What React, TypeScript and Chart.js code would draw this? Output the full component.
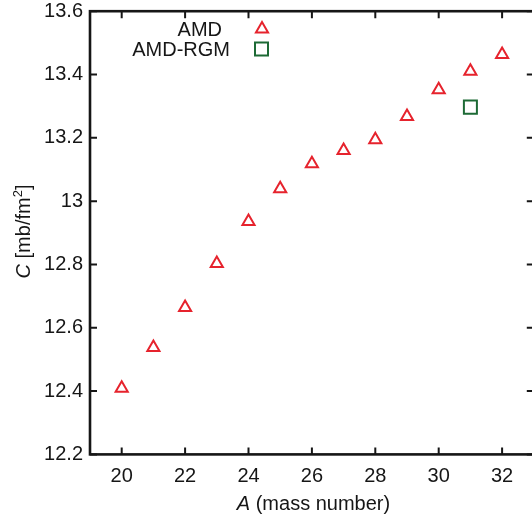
import React, { useEffect, useRef } from 'react';
import { Chart, registerables } from 'chart.js';

Chart.register(...registerables);

// ---- data ----
const massNumbers = [20, 21, 22, 23, 24, 25, 26, 27, 28, 29, 30, 31, 32];
const amdValues = [12.409, 12.538, 12.664, 12.803, 12.936, 13.039, 13.118, 13.16, 13.194, 13.267, 13.352, 13.41, 13.463];
const rgmMassNumbers = [31];
const rgmValues = [13.297];
const xTicks = [20, 22, 24, 26, 28, 30, 32];
const yTicks = [12.2, 12.4, 12.6, 12.8, 13.0, 13.2, 13.4, 13.6];
const seriesLabels = ['AMD', 'AMD-RGM'];

const RED = '#e6232d';
const GREEN = '#1d6a35';
const INK = '#161616';
const FONT = "'Liberation Sans', Arial, Helvetica, sans-serif";

export default function App() {
  const ref = useRef<HTMLCanvasElement | null>(null);

  useEffect(() => {
    const canvas = ref.current;
    if (!canvas) return;

    const framePlugin = {
      id: 'framePlugin',
      afterDraw(chart: any) {
        const { ctx, chartArea } = chart;
        const { left, right, top, bottom } = chartArea;
        const xs = chart.scales.x;
        const ys = chart.scales.y;
        ctx.save();
        // ticks (inward, mirrored)
        ctx.strokeStyle = INK;
        ctx.lineWidth = 2;
        const tl = 7;
        ctx.beginPath();
        xTicks.forEach((v) => {
          const px = xs.getPixelForValue(v);
          ctx.moveTo(px, bottom);
          ctx.lineTo(px, bottom - tl);
          ctx.moveTo(px, top);
          ctx.lineTo(px, top + tl);
        });
        yTicks.forEach((v) => {
          const py = ys.getPixelForValue(v);
          ctx.moveTo(left, py);
          ctx.lineTo(left + tl, py);
          ctx.moveTo(right, py);
          ctx.lineTo(right - tl, py);
        });
        ctx.stroke();
        // frame
        ctx.lineWidth = 2.6;
        ctx.strokeRect(left, top, right - left, bottom - top);

        // legend
        ctx.fillStyle = INK;
        ctx.font = `20px ${FONT}`;
        ctx.textAlign = 'right';
        ctx.textBaseline = 'alphabetic';
        ctx.fillText(seriesLabels[0], 222, 35.5);
        ctx.fillText(seriesLabels[1], 230, 56);
        // triangle symbol
        const r = 7;
        const tx = 262, ty = 29;
        ctx.strokeStyle = RED;
        ctx.lineWidth = 2;
        ctx.beginPath();
        ctx.moveTo(tx, ty - r);
        ctx.lineTo(tx + r * Math.sin((2 * Math.PI) / 3), ty - r * Math.cos((2 * Math.PI) / 3));
        ctx.lineTo(tx + r * Math.sin((4 * Math.PI) / 3), ty - r * Math.cos((4 * Math.PI) / 3));
        ctx.closePath();
        ctx.stroke();
        // square symbol
        const s = 6.5;
        ctx.strokeStyle = GREEN;
        ctx.strokeRect(261.5 - s, 49 - s, 2 * s, 2 * s);

        // x title
        ctx.fillStyle = INK;
        ctx.textAlign = 'left';
        ctx.font = `italic 20px ${FONT}`;
        const aW = ctx.measureText('A').width;
        ctx.font = `20px ${FONT}`;
        const restX = ' (mass number)';
        const rW = ctx.measureText(restX).width;
        const totalX = aW + rW;
        const cx = 313.5;
        const x0 = cx - totalX / 2;
        ctx.font = `italic 20px ${FONT}`;
        ctx.fillText('A', x0, 510);
        ctx.font = `20px ${FONT}`;
        ctx.fillText(restX, x0 + aW, 510);

        // y title (rotated)
        ctx.translate(30, 231.5);
        ctx.rotate(-Math.PI / 2);
        ctx.font = `italic 20px ${FONT}`;
        const cW = ctx.measureText('C').width;
        ctx.font = `20px ${FONT}`;
        const p1 = ' [mb/fm';
        const p1W = ctx.measureText(p1).width;
        ctx.font = `13px ${FONT}`;
        const supW = ctx.measureText('2').width;
        ctx.font = `20px ${FONT}`;
        const p2W = ctx.measureText(']').width;
        const tot = cW + p1W + supW + p2W;
        let yx = -tot / 2;
        ctx.font = `italic 20px ${FONT}`;
        ctx.fillText('C', yx, 0);
        yx += cW;
        ctx.font = `20px ${FONT}`;
        ctx.fillText(p1, yx, 0);
        yx += p1W;
        ctx.font = `13px ${FONT}`;
        ctx.fillText('2', yx, -8);
        yx += supW;
        ctx.font = `20px ${FONT}`;
        ctx.fillText(']', yx, 0);
        ctx.restore();
      },
    };

    const chart = new Chart(canvas, {
      type: 'scatter',
      data: {
        datasets: [
          {
            label: seriesLabels[0],
            data: massNumbers.map((x, i) => ({ x, y: amdValues[i] })),
            pointStyle: 'triangle',
            pointRadius: 7,
            pointBorderWidth: 2,
            pointBorderColor: RED,
            pointBackgroundColor: 'rgba(0,0,0,0)',
            showLine: false,
          },
          {
            label: seriesLabels[1],
            data: rgmMassNumbers.map((x, i) => ({ x, y: rgmValues[i] })),
            pointStyle: 'rect',
            pointRadius: 9.2,
            pointBorderWidth: 2,
            pointBorderColor: GREEN,
            pointBackgroundColor: 'rgba(0,0,0,0)',
            showLine: false,
          },
        ],
      },
      options: {
        animation: false,
        responsive: false,
        devicePixelRatio: 1,
        layout: { padding: { top: 10.6, right: 10.5, left: 0, bottom: 0 } },
        plugins: { legend: { display: false }, tooltip: { enabled: false } },
        scales: {
          x: {
            type: 'linear',
            min: 19,
            max: 33,
            afterBuildTicks: (s: any) => {
              s.ticks = xTicks.map((v) => ({ value: v }));
            },
            afterFit: (s: any) => {
              s.height = 63.6;
              s.paddingLeft = 0;
              s.paddingRight = 0;
            },
            grid: { display: false, drawTicks: false },
            border: { display: false },
            ticks: {
              padding: 12,
              color: INK,
              font: { family: FONT, size: 20, lineHeight: 1 },
              maxRotation: 0,
              autoSkip: false,
              callback: (v: any) => String(v),
            },
          },
          y: {
            type: 'linear',
            min: 12.2,
            max: 13.6,
            afterBuildTicks: (s: any) => {
              s.ticks = yTicks.map((v) => ({ value: v }));
            },
            afterFit: (s: any) => {
              s.width = 90;
              s.paddingTop = 0;
              s.paddingBottom = 0;
            },
            grid: { display: false, drawTicks: false },
            border: { display: false },
            ticks: {
              padding: 7,
              color: INK,
              font: { family: FONT, size: 20, lineHeight: 1 },
              autoSkip: false,
              callback: (v: any) => String(Math.round(Number(v) * 10) / 10),
            },
          },
        },
      },
      plugins: [framePlugin],
    });

    return () => chart.destroy();
  }, []);

  return (
    <div style={{ position: 'absolute', left: 0, top: 0, width: 532, height: 518, overflow: 'hidden', background: '#fff' }}>
      <canvas ref={ref} width={545} height={518} style={{ display: 'block' }} />
    </div>
  );
}
